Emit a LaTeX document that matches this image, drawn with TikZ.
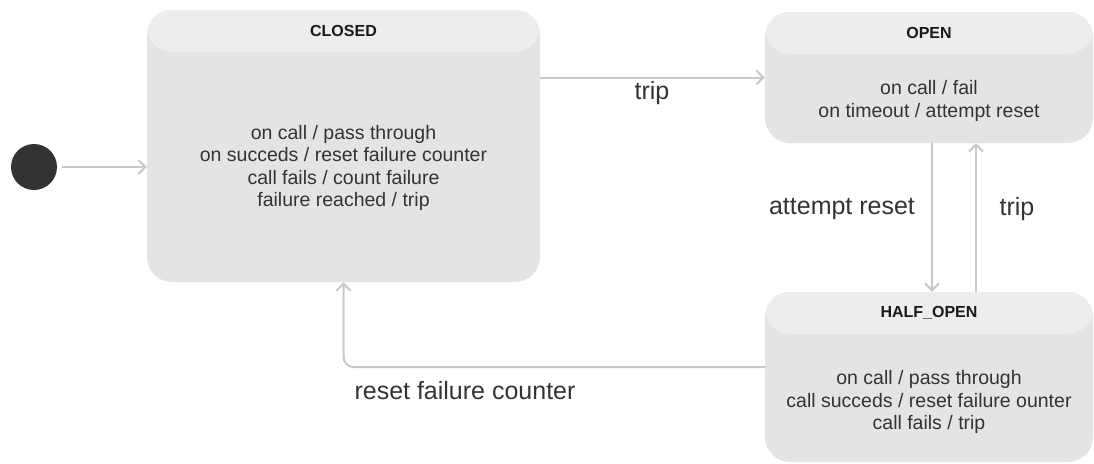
\documentclass[tikz,border=0pt]{standalone}
\usepackage{fontspec}
\setmainfont{Liberation Sans}
\usetikzlibrary{arrows.meta,calc}
\definecolor{bodyfill}{HTML}{E4E4E4}
\definecolor{headfill}{HTML}{EDEDED}
\definecolor{linegray}{HTML}{C9C9C9}
\definecolor{txt}{HTML}{333333}
\tikzset{
  statebox/.style={fill=bodyfill, draw=none, rounded corners=25pt, inner sep=0pt,
    path picture={\fill[headfill] (path picture bounding box.north west) rectangle ([yshift=-#1]path picture bounding box.north east);}},
  titletext/.style={font=\fontsize{16}{19}\selectfont\bfseries, text=black!90},
  bodytext/.style={font=\fontsize{19.5}{22.4}\selectfont, text=txt, align=center},
  lbl/.style={font=\fontsize{25}{28}\selectfont, text=txt},
  conn/.style={draw=linegray, line width=2pt, -{Straight Barb[length=7pt,width=14pt,line width=2pt]}},
}
\begin{document}
\begin{tikzpicture}[x=1pt,y=-1pt]
\useasboundingbox (0,0) rectangle (1094,463);
% states
\node[statebox=42pt, minimum width=393pt, minimum height=272pt] (closed) at (343.5,146) {};
\node[statebox=42pt, minimum width=328pt, minimum height=131pt] (open) at (929,77.5) {};
\node[statebox=42pt, minimum width=328pt, minimum height=170pt] (half) at (929,377) {};
\node[titletext] (closedt) at (343.5,31) {CLOSED};
\node[titletext] (opent) at (929,33) {OPEN};
\node[titletext] (halft) at (929,313) {HALF\_OPEN};
\node[bodytext] (closedb) at (343.5,168) {on call / pass through\\on succeds / reset failure counter\\call fails / count failure\\failure reached / trip};
\node[bodytext] (openb) at (929,101) {on call / fail\\on timeout / attempt reset};
\node[bodytext] (halfb) at (929,402) {on call / pass through\\call succeds / reset failure ounter\\call fails / trip};
% initial
\node[circle, fill=black!80, minimum size=46pt, inner sep=0pt] (init) at (34,167) {};
% connectors
\draw[conn] (init.east) ++(5pt,0) coordinate (is) (is) -- (closed.west |- init.east);
\draw[conn] (closed.east |- open.west) -- (open.west);
\draw[conn] ([xshift=3pt]open.south) -- ([xshift=3pt]half.north);
\draw[conn] ([xshift=47pt]half.north) -- ([xshift=47pt]open.south);
\draw[conn, rounded corners=10pt] ([yshift=10pt]half.west) -- ([yshift=10pt]half.west -| closed.south) -- (closed.south);
% labels
\node[lbl] (l1) at (652,93) {trip};
\node[lbl] (l2) at (842,209) {attempt reset};
\node[lbl] (l3) at (1017,209) {trip};
\node[lbl] (l4) at (465,391) {reset failure counter};
\end{tikzpicture}
\end{document}
